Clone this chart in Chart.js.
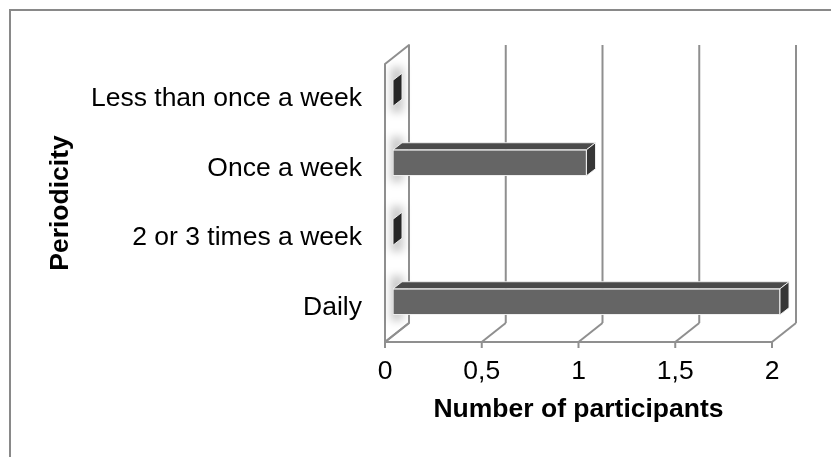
<!DOCTYPE html>
<html>
<head>
<meta charset="utf-8">
<script src="https://cdn.jsdelivr.net/npm/chart.js@4.4.1/dist/chart.umd.min.js"></script>
<style>
  html, body { margin: 0; padding: 0; background: #ffffff; }
  #chart { display: block; }
</style>
</head>
<body>
<canvas id="chart" width="831" height="457"></canvas>
<script>
// Categories (top to bottom) and number of participants for each
const categories = ['Less than once a week', 'Once a week', '2 or 3 times a week', 'Daily'];
const participants = [0, 1, 0, 2];

// Value axis ticks and their printed labels (decimal comma)
const xTickValues = [0, 0.5, 1, 1.5, 2];
const xTickLabels = ['0', '0,5', '1', '1,5', '2'];

const FONT = "'Liberation Sans', Arial, Helvetica, sans-serif";
const LINE = '#8f8f8f';

// Perspective offsets: back wall relative to the front plane,
// bar front relative to the front plane, and bar depth
const WALL_DX = 24, WALL_DY = -19;
const BAR_DX = 8, BAR_DY = -5.5;
const DEPTH_DX = 9, DEPTH_DY = -7;

const box3d = {
  id: 'box3d',
  beforeDraw(chart) {
    const ctx = chart.ctx;
    ctx.save();
    ctx.fillStyle = '#ffffff';
    ctx.fillRect(0, 0, chart.width, chart.height);
    ctx.strokeStyle = '#898989';
    ctx.lineWidth = 2;
    ctx.strokeRect(10, 10, chart.width + 40, chart.height + 40);
    ctx.restore();
  },
  beforeDatasetsDraw(chart) {
    const { ctx, chartArea: a, scales: { x } } = chart;
    ctx.save();
    ctx.strokeStyle = LINE;
    ctx.lineWidth = 2;
    ctx.lineJoin = 'round';

    // side wall on the left
    ctx.beginPath();
    ctx.moveTo(a.left, a.bottom);
    ctx.lineTo(a.left, a.top);
    ctx.lineTo(a.left + WALL_DX, a.top + WALL_DY);
    ctx.lineTo(a.left + WALL_DX, a.bottom + WALL_DY);
    ctx.closePath();
    ctx.stroke();

    xTickValues.forEach(v => {
      const p = x.getPixelForValue(v);
      // back wall gridline
      ctx.beginPath();
      ctx.moveTo(p + WALL_DX, a.top + WALL_DY);
      ctx.lineTo(p + WALL_DX, a.bottom + WALL_DY);
      ctx.stroke();
      // floor line
      ctx.beginPath();
      ctx.moveTo(p, a.bottom);
      ctx.lineTo(p + WALL_DX, a.bottom + WALL_DY);
      ctx.stroke();
      // tick mark
      ctx.beginPath();
      ctx.moveTo(p, a.bottom);
      ctx.lineTo(p, a.bottom + 6);
      ctx.stroke();
    });

    // front edge of the floor
    ctx.beginPath();
    ctx.moveTo(a.left, a.bottom);
    ctx.lineTo(a.right, a.bottom);
    ctx.stroke();

    // soft shade where each bar meets the side wall
    const meta = chart.getDatasetMeta(0);
    ctx.filter = 'blur(4px)';
    ctx.fillStyle = 'rgba(0,0,0,0.22)';
    meta.data.forEach(el => {
      const top = el.y - el.height / 2 + BAR_DY;
      const bot = el.y + el.height / 2 + BAR_DY;
      const bx = el.base + BAR_DX;
      ctx.fillRect(bx - 2, top + DEPTH_DY - 6, DEPTH_DX + 3, bot - top - DEPTH_DY + 12);
    });
    ctx.filter = 'none';
    ctx.restore();

    // bars sit part-way into the depth of the box
    ctx.save();
    ctx.translate(BAR_DX, BAR_DY);
  },
  afterDatasetsDraw(chart) {
    const ctx = chart.ctx;
    ctx.restore();
    const meta = chart.getDatasetMeta(0);
    ctx.save();
    ctx.lineWidth = 1;
    ctx.strokeStyle = 'rgba(240,240,240,0.95)';
    ctx.lineJoin = 'round';
    meta.data.forEach(el => {
      const top = el.y - el.height / 2 + BAR_DY;
      const bot = el.y + el.height / 2 + BAR_DY;
      const l = el.base + BAR_DX;
      const r = el.x + BAR_DX;
      // top face
      if (r - l > 0.5) {
        ctx.beginPath();
        ctx.moveTo(l, top);
        ctx.lineTo(r, top);
        ctx.lineTo(r + DEPTH_DX, top + DEPTH_DY);
        ctx.lineTo(l + DEPTH_DX, top + DEPTH_DY);
        ctx.closePath();
        ctx.fillStyle = '#4a4a4a';
        ctx.fill();
        ctx.stroke();
      }
      // end face
      ctx.beginPath();
      ctx.moveTo(r, top);
      ctx.lineTo(r + DEPTH_DX, top + DEPTH_DY);
      ctx.lineTo(r + DEPTH_DX, bot + DEPTH_DY);
      ctx.lineTo(r, bot);
      ctx.closePath();
      ctx.fillStyle = r - l > 0.5 ? '#363636' : '#262626';
      ctx.fill();
      ctx.stroke();
    });
    ctx.restore();
  }
};

new Chart(document.getElementById('chart'), {
  type: 'bar',
  data: {
    labels: categories,
    datasets: [{
      data: participants,
      backgroundColor: '#656565',
      borderColor: 'rgba(238,238,238,0.95)',
      borderWidth: 1,
      borderSkipped: false,
      barThickness: 26,
      clip: false
    }]
  },
  options: {
    indexAxis: 'y',
    responsive: false,
    animation: false,
    devicePixelRatio: 1,
    layout: { padding: { top: 64, right: 59, bottom: 0, left: 0 } },
    plugins: {
      legend: { display: false },
      tooltip: { enabled: false }
    },
    scales: {
      x: {
        min: 0,
        max: 2,
        grid: { display: false, drawTicks: false },
        border: { display: false },
        ticks: {
          stepSize: 0.5,
          padding: 14,
          color: '#000',
          font: { family: FONT, size: 26.5 },
          callback: (value, index) => xTickLabels[index]
        },
        title: {
          display: true,
          text: 'Number of participants',
          color: '#000',
          font: { family: FONT, size: 26.5, weight: 'bold' },
          padding: { top: 0, bottom: 31 }
        },
        afterFit(scale) { scale.height = 115; }
      },
      y: {
        grid: { display: false, drawTicks: false },
        border: { display: false },
        ticks: {
          padding: 23,
          color: '#000',
          font: { family: FONT, size: 26.5 }
        },
        title: {
          display: true,
          text: 'Periodicity',
          color: '#000',
          font: { family: FONT, size: 26.5, weight: 'bold' },
          padding: { top: 45, bottom: 0 }
        },
        afterFit(scale) { scale.width = 385; }
      }
    }
  },
  plugins: [box3d]
});
</script>
</body>
</html>
